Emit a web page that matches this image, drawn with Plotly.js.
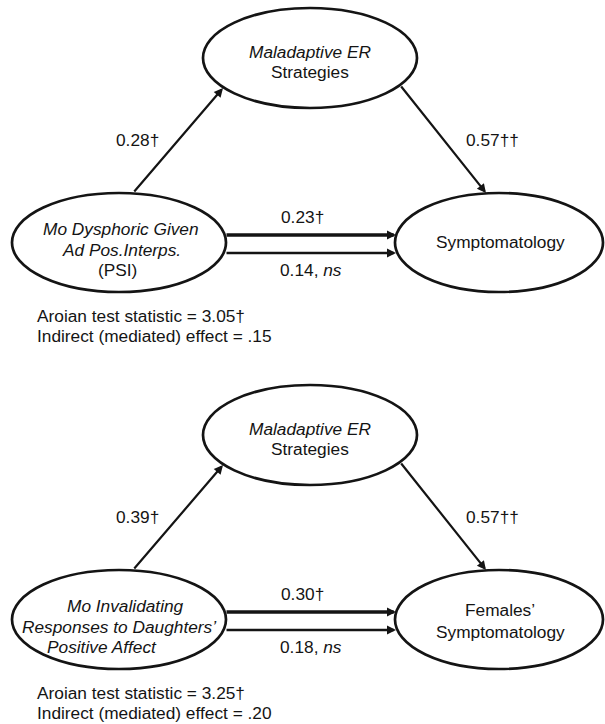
<!DOCTYPE html>
<html>
<head>
<meta charset="utf-8">
<script src="https://cdn.plot.ly/plotly-3.0.1.min.js"></script>
<style>
  html, body { margin: 0; padding: 0; background: #ffffff; }
  #chart { width: 605px; height: 724px; }
</style>
</head>
<body>
<div id="chart"></div>
<script>
// ---------- DATA ----------
// Panel 1 node labels (lines)
const panel1Predictor = ['<i>Mo Dysphoric Given</i>', '<i>Ad Pos.Interps.</i>', '(PSI)'];
const panel1Mediator = ['<i>Maladaptive ER</i>', 'Strategies'];
const panel1Outcome = ['Symptomatology'];
// Panel 1 path coefficients: a, b, c (total), c' (direct)
const panel1Paths = ['0.28†', '0.57††', '0.23†', '0.14, <i>ns</i>'];
const panel1Notes = ['Aroian test statistic = 3.05†', 'Indirect (mediated) effect = .15'];

// Panel 2 node labels (lines)
const panel2Predictor = ['<i>Mo Invalidating</i>', '<i>Responses to Daughters’</i>', '<i>Positive Affect</i>'];
const panel2Mediator = ['<i>Maladaptive ER</i>', 'Strategies'];
const panel2Outcome = ['Females’', 'Symptomatology'];
const panel2Paths = ['0.39†', '0.57††', '0.30†', '0.18, <i>ns</i>'];
const panel2Notes = ['Aroian test statistic = 3.25†', 'Indirect (mediated) effect = .20'];

// ---------- LAYOUT GEOMETRY (pixel space; y downward) ----------
const FONT = 'Liberation Sans, Arial, Helvetica, sans-serif';
const INK = '#141414';
const FS = 17.3;

function buildPanel(dy, pred, med, out, paths, notes, predLineX, outLineY) {
  const shapes = [];
  const ann = [];
  // ellipses: mediator, predictor, outcome
  const ell = [
    {x0: 203, x1: 417, y0: 8, y1: 108},
    {x0: 12, x1: 226, y0: 193, y1: 292},
    {x0: 395, x1: 603, y0: 193, y1: 292}
  ];
  ell.forEach(e => shapes.push({
    type: 'circle', xref: 'x', yref: 'y',
    x0: e.x0, x1: e.x1, y0: e.y0 + dy, y1: e.y1 + dy,
    line: {color: INK, width: 2.7}, fillcolor: 'rgba(0,0,0,0)'
  }));

  function txt(s, x, y, anchor) {
    ann.push({x: x, y: y + dy, xref: 'x', yref: 'y', text: s, showarrow: false,
      xanchor: anchor || 'center', yanchor: 'middle',
      font: {family: FONT, size: FS, color: INK}});
  }
  function arrow(x0, y0, x1, y1, w) {
    ann.push({x: x1, y: y1 + dy, ax: x0, ay: y0 + dy, xref: 'x', yref: 'y',
      axref: 'x', ayref: 'y', text: '', showarrow: true, arrowhead: 2,
      arrowsize: 0.9 * 2 / w, arrowwidth: w, arrowcolor: INK, standoff: 0, startstandoff: 0});
  }

  // node texts
  const medY = [52, 72];
  med.forEach((s, i) => txt(s, 310, medY[i]));
  const predY = pred.length === 3 ? [229, 250, 270] : [242];
  pred.forEach((s, i) => txt(s, predLineX[i], predY[i]));
  out.forEach((s, i) => txt(s, 500, outLineY[i]));

  // arrows
  arrow(133, 193, 223, 88, 2.2);     // a path
  arrow(400, 85, 486, 193, 2.2);     // b path
  arrow(225, 235, 396, 235, 3.4);    // total effect (thick)
  arrow(225, 253, 396, 253, 2.4);    // direct effect

  // path labels
  txt(paths[0], 137, 140);
  txt(paths[1], 492, 140);
  txt(paths[2], 302, 217);
  txt(paths[3], 311, 270);

  // notes
  txt(notes[0], 35, 316, 'left');
  txt(notes[1], 35, 336, 'left');
  return {shapes, ann};
}

const p1 = buildPanel(0, panel1Predictor, panel1Mediator, panel1Outcome, panel1Paths, panel1Notes,
  [121, 121, 117], [242]);
const p2 = buildPanel(377, panel2Predictor, panel2Mediator, panel2Outcome, panel2Paths, panel2Notes,
  [125, 119, 102], [233, 255]);

const layout = {
  width: 605, height: 724,
  margin: {l: 0, r: 0, t: 0, b: 0},
  paper_bgcolor: '#ffffff', plot_bgcolor: '#ffffff',
  showlegend: false,
  xaxis: {range: [0, 605], visible: false, fixedrange: true},
  yaxis: {range: [724, 0], visible: false, fixedrange: true},
  shapes: p1.shapes.concat(p2.shapes),
  annotations: p1.ann.concat(p2.ann)
};

Plotly.newPlot('chart', [{x: [], y: [], type: 'scatter', hoverinfo: 'skip'}], layout,
  {displayModeBar: false, staticPlot: true});
</script>
</body>
</html>
